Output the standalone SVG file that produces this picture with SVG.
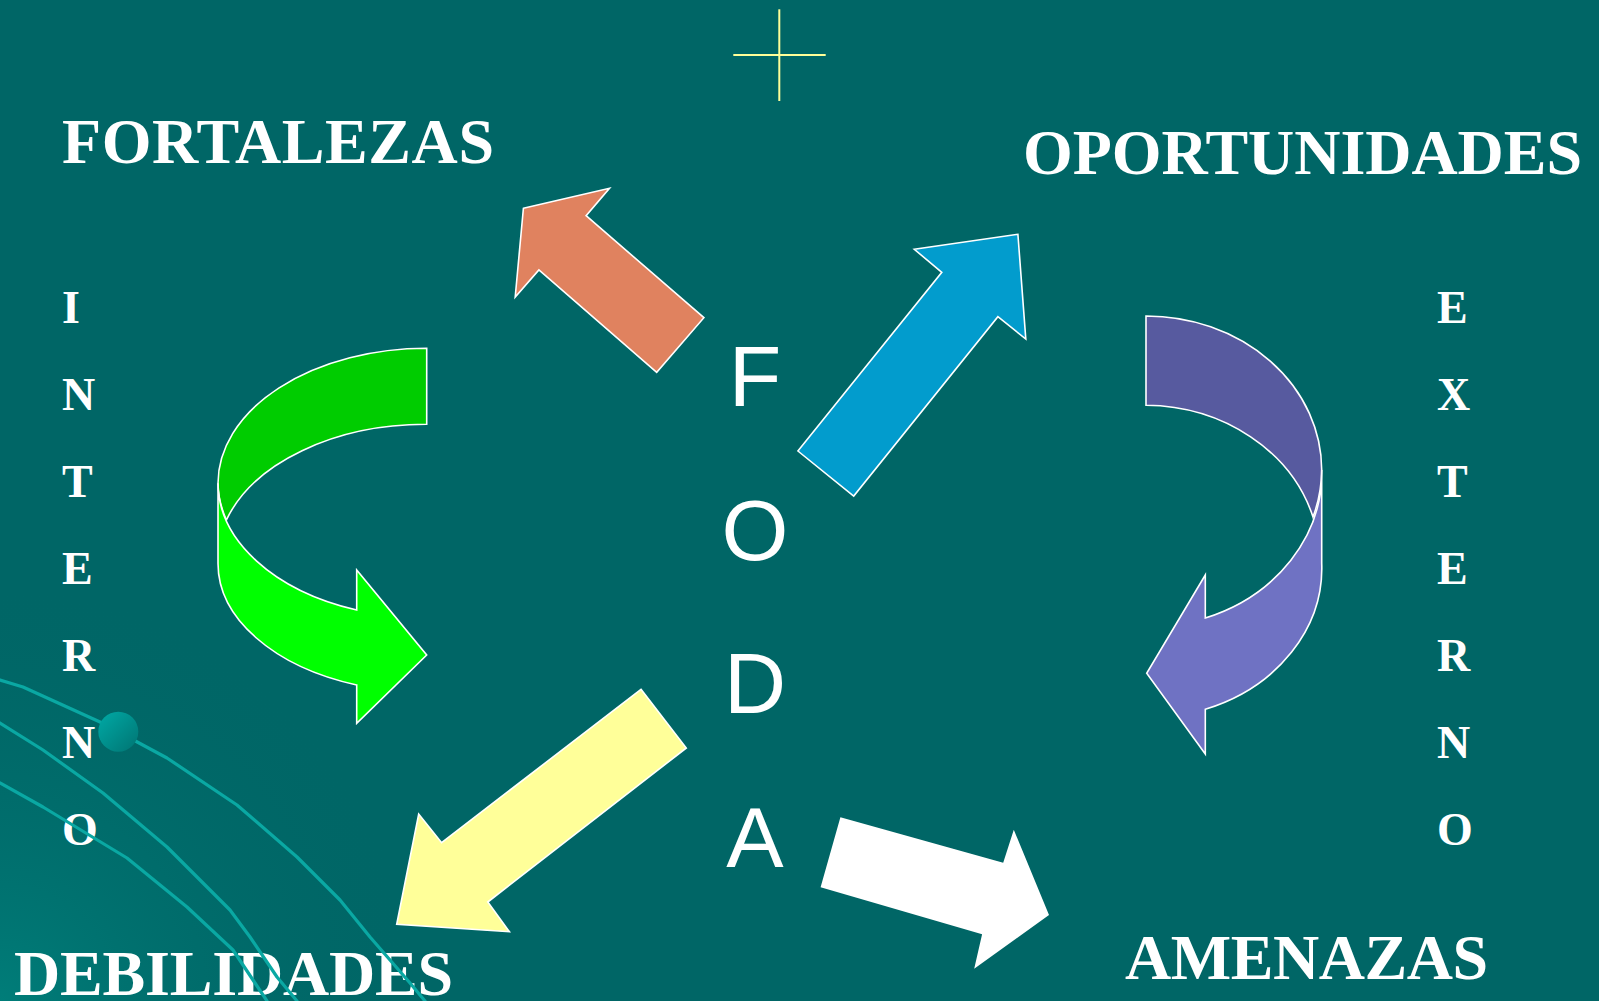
<svg xmlns="http://www.w3.org/2000/svg" width="1599" height="1001" viewBox="0 0 1599 1001">
  <defs>
    <radialGradient id="corner" cx="0" cy="1001" r="420" gradientUnits="userSpaceOnUse">
      <stop offset="0" stop-color="#007d79"/>
      <stop offset="1" stop-color="#006666" stop-opacity="0"/>
    </radialGradient>
    <linearGradient id="ball" x1="0" y1="0" x2="1" y2="1">
      <stop offset="0" stop-color="#00aaa6"/>
      <stop offset="1" stop-color="#007472"/>
    </linearGradient>
    <style>
      .title { font-family: "Liberation Serif", "Times New Roman", serif; font-weight: bold; font-size: 64px; fill: #ffffff; }
      .col { font-family: "Liberation Serif", "Times New Roman", serif; font-weight: bold; font-size: 46px; fill: #ffffff; }
      .foda { font-family: "Liberation Sans", Arial, sans-serif; font-size: 86px; fill: #ffffff; text-anchor: middle; }
      .arrow { stroke: #ffffff; stroke-width: 1.6; stroke-linejoin: miter; }
      .deco { fill: none; stroke: #0aa8a3; stroke-width: 3.2; stroke-linejoin: round; stroke-linecap: round; }
    </style>
  </defs>

  <rect x="0" y="0" width="1599" height="1001" fill="#006666"/>
  <rect x="0" y="0" width="1599" height="1001" fill="url(#corner)"/>

  <g id="cross">
    <line x1="779.3" y1="9.3" x2="779.3" y2="101" stroke="#ffff99" stroke-width="2"/>
    <line x1="733.3" y1="55" x2="825.7" y2="55" stroke="#ffff99" stroke-width="2"/>
  </g>

  <g id="fortalezas"><text class="title" x="62" y="163.3" textLength="432" lengthAdjust="spacing">FORTALEZAS</text></g>
  <g id="oportunidades"><text class="title" x="1023" y="174" textLength="559" lengthAdjust="spacing">OPORTUNIDADES</text></g>
  <g id="debilidades"><text class="title" x="14" y="995" textLength="439" lengthAdjust="spacing">DEBILIDADES</text></g>
  <g id="amenazas"><text class="title" x="1125" y="979.3" textLength="363" lengthAdjust="spacing">AMENAZAS</text></g>

  <g id="interno">
    <text class="col" x="62" y="323">I</text>
    <text class="col" x="62" y="410">N</text>
    <text class="col" x="62" y="497">T</text>
    <text class="col" x="62" y="584">E</text>
    <text class="col" x="62" y="671">R</text>
    <text class="col" x="62" y="758">N</text>
    <text class="col" x="62" y="845">O</text>
  </g>

  <g id="externo">
    <text class="col" x="1437" y="323">E</text>
    <text class="col" x="1437" y="410">X</text>
    <text class="col" x="1437" y="497">T</text>
    <text class="col" x="1437" y="584">E</text>
    <text class="col" x="1437" y="671">R</text>
    <text class="col" x="1437" y="758">N</text>
    <text class="col" x="1437" y="845">O</text>
  </g>

  <g id="foda">
    <text class="foda" x="755" y="406">F</text>
    <text class="foda" x="755" y="559.5">O</text>
    <text class="foda" x="755" y="713">D</text>
    <text class="foda" x="755" y="867">A</text>
  </g>

  <g id="connectors">
    <g id="arrow-fortalezas">
      <polygon class="arrow" fill="#e0825f" points="523.4,208.3 609.5,188.3 586.1,215.7 703.9,317.7 656.7,372.3 538.9,270 515.2,297"/>
    </g>
    <g id="arrow-oportunidades">
      <polygon class="arrow" fill="#029ccd" points="797.9,451 941.8,272.3 914.3,249.3 1017.9,234.3 1025.8,339 997.9,316.7 853.7,496"/>
    </g>
    <g id="arrow-debilidades">
      <polygon class="arrow" fill="#ffff99" points="641,689.3 686.3,748 487.8,902 509.4,931.7 396.7,924.3 418.7,814 441.6,842.7"/>
    </g>
    <g id="arrow-amenazas">
      <polygon fill="#ffffff" points="840.4,817.3 1003.2,862.7 1013.8,829.7 1049,915 974.2,968.7 982.1,934.3 820.6,887.3"/>
    </g>
    <g id="arrow-interno">
      <path class="arrow" fill="#00cc00" d="M426.7,348.3 A208.7,135 0 0 0 218,483.3 A208.7,135 0 0 0 226.4,520 A208.7,135 0 0 1 426.7,424.3 Z"/>
      <path class="arrow" fill="#00ff00" d="M218,483.3 A208.7,135 0 0 0 356.7,610 L356.7,570 L426.7,655 L356.7,723.3 L356.7,685 A208.7,129 0 0 1 218,563.3 Z"/>
    </g>
    <g id="arrow-externo">
      <path class="arrow" fill="#575a9f" d="M1146,316 A175.7,154 0 0 1 1321.7,470 A175.7,154 0 0 1 1313,517 A175.7,154 0 0 0 1146,405.3 Z"/>
      <path class="arrow" fill="#6f72c3" d="M1321.7,470 A175.7,154 0 0 1 1205.3,618 L1205.3,575 L1146.7,673.3 L1205.3,754 L1205.3,709.3 A175.7,150 0 0 0 1321.7,563 Z"/>
    </g>
  </g>

  <g id="decoration">
    <polyline class="deco" points="0,680 23,687 100,722 167,758 237,805 297,857 340,900 370,937 410,983 425,1001"/>
    <polyline class="deco" points="0,723 43,750 103,793 167,847 230,910 250,937 277,977 297,1001"/>
    <polyline class="deco" points="0,783 43,807 127,858 187,907 233,950 267,1001"/>
    <circle cx="118.3" cy="731.7" r="20" fill="url(#ball)"/>
  </g>
</svg>
